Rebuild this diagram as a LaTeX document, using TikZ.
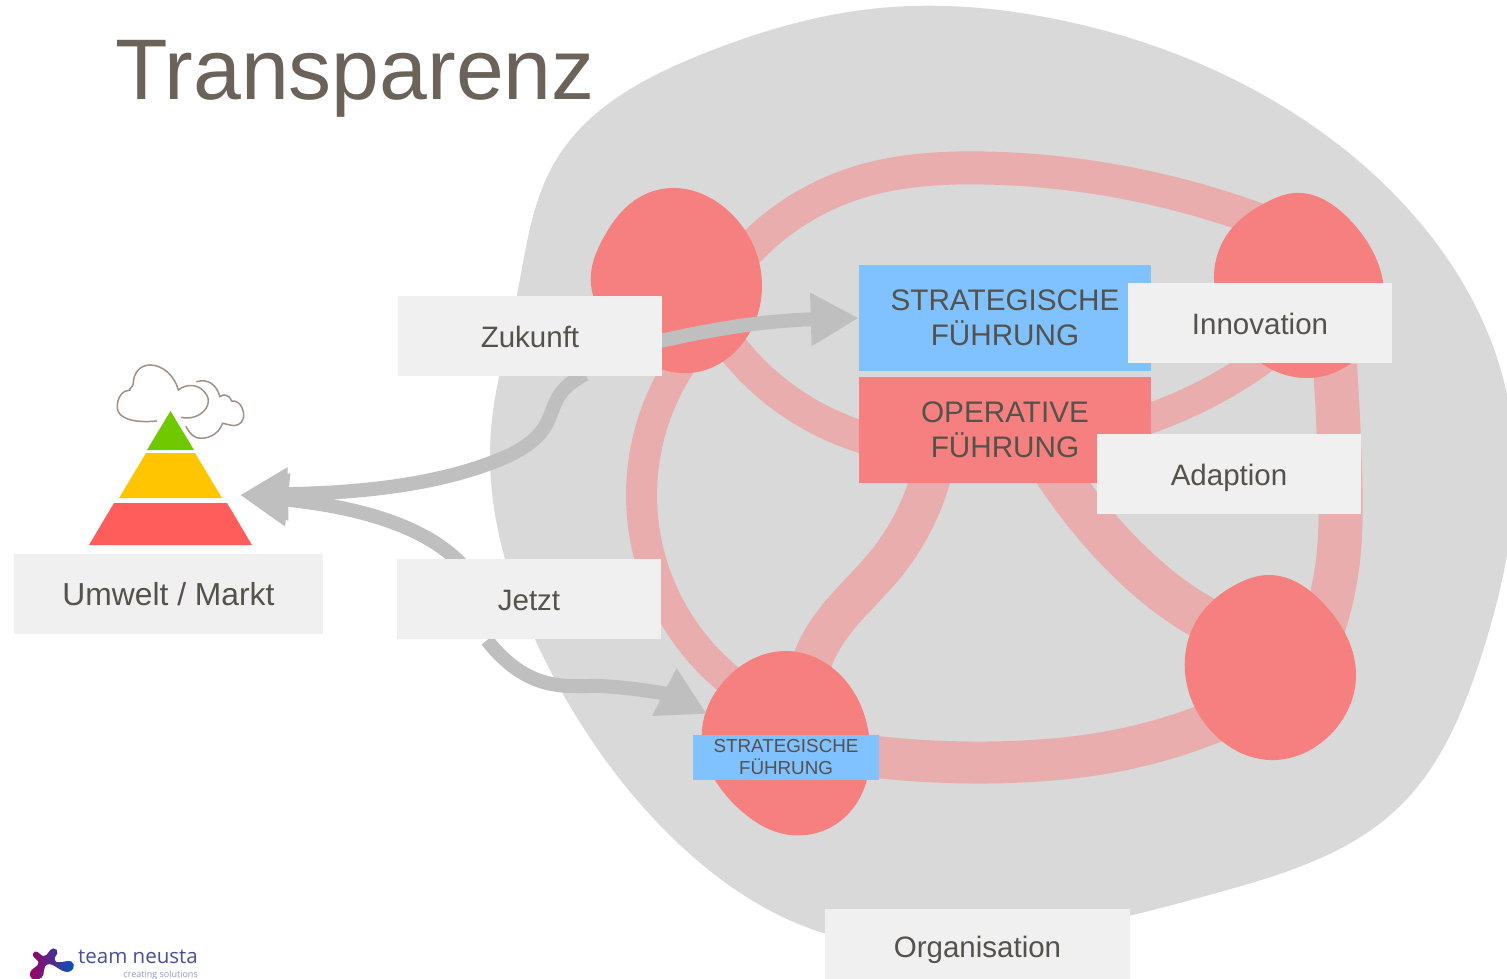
\documentclass[tikz,border=0pt]{standalone}
\usepackage{fontspec}
\setmainfont{Liberation Sans}
\newfontfamily\logofont{Open Sans}
\usetikzlibrary{arrows.meta,calc,hobby}
\pgfdeclarelayer{under}
\pgfdeclarelayer{flowlayer}
\pgfsetlayers{under,flowlayer,main}
\definecolor{blobgray}{HTML}{D9D9D9}
\definecolor{ribbon}{HTML}{E9ADAD}
\definecolor{redblob}{HTML}{F68080}
\definecolor{boxgray}{HTML}{F0F0F0}
\definecolor{blu}{HTML}{80C1FF}
\definecolor{txt}{HTML}{55514B}
\definecolor{arrowgray}{HTML}{BFBFBF}
\definecolor{cloudc}{HTML}{A09088}
\tikzset{
 x=1pt,y=-1pt,
 rib/.style={draw=ribbon,line cap=butt,line join=round,use Hobby shortcut},
 ablob/.style={fill=redblob,draw=none,use Hobby shortcut,closed=true},
 label box/.style={fill=boxgray,draw=none,minimum width=264pt,minimum height=80pt,inner sep=0pt,text=txt,text height=26pt,text depth=4pt,font=\fontsize{29.5}{30}\selectfont},
 big box/.style={draw=none,minimum width=292pt,minimum height=106pt,inner sep=0pt,text=txt,align=center,font=\fontsize{29.7}{35}\selectfont},
 flow/.style={draw=arrowgray,line width=14pt,-{Triangle[length=48pt,width=50pt,fill=arrowgray]}},
 cloudline/.style={draw=cloudc,line width=1.5pt,line cap=round},
}
\begin{document}
\begin{tikzpicture}
\useasboundingbox (0,0) rectangle (1507,979);
\begin{pgfonlayer}{under}
\fill[white] (0,0) rectangle (1507,979);
% organisation blob
\fill[blobgray,use Hobby shortcut,closed=true] (516,300)..(556,160)..(700,55)..(880,8)..(1050,18)..(1235,80)..(1390,190)..(1507,395)..(1480,660)..(1400,806)..(1220,892)..(1040,935)..(830,935)..(680,845)..(550,670)..(491,430);
% ribbons
\draw[rib,line width=33pt] (738,262)..(850,185)..(985,168)..(1110,180)..(1265,222);
\draw[rib,line width=31pt] (680,365)..(642,510)..(680,625)..(750,695);
\draw[rib,line width=42pt] (860,755)..(1010,762)..(1120,750)..(1230,715);
\draw[rib,line width=44pt] (1335,365)..(1340,470)..(1338,560)..(1315,650);
\draw[rib,line width=32pt] (730,345)..(790,402)..(865,438);
\draw[rib,line width=40pt] (935,460)..(885,565)..(822,640)..(808,675);
\draw[rib,line width=44pt] (1045,455)..(1118,550)..(1190,610)..(1240,635);
\draw[rib,line width=30pt] (1145,420)..(1210,392)..(1275,350);
% red blobs
\fill[ablob] (672,188)..(725,208)..(762,285)..(745,340)..(690,373)..(605,320)..(591,285)..(605,235)..(635,200);
\fill[ablob] (1295,193)..(1350,220)..(1384,290)..(1365,350)..(1305,378)..(1225,320)..(1214,280)..(1232,228)..(1265,203);
\fill[ablob] (1268,575)..(1325,605)..(1356,675)..(1330,735)..(1270,760)..(1215,735)..(1185,672)..(1200,615)..(1235,585);
\fill[ablob] (785,651)..(835,670)..(870,745)..(850,812)..(790,835)..(738,808)..(702,730)..(725,680);
% pyramid
\fill[fill={rgb,255:red,112;green,200;blue,0}] (170.5,411) -- (194,450) -- (147,450) -- cycle;
\fill[fill={rgb,255:red,255;green,198;blue,0}] (146,453) -- (195,453) -- (222,498) -- (119,498) -- cycle;
\fill[fill={rgb,255:red,255;green,92;blue,92}] (114,503) -- (227,503) -- (252,545) -- (89,545) -- cycle;
% clouds (crop coordinates)
\begin{scope}[shift={(0,340)},x=0.3333pt,y=-0.3333pt]
\draw[cloudline] (470,243) .. controls (400,250) and (355,235) .. (352,205) .. controls (350,170) and (370,150) .. (390,150) .. controls (385,145) and (398,145) .. (400,130) .. controls (400,100) and (420,75) .. (450,75) .. controls (490,75) and (525,110) .. (535,150) .. controls (560,130) and (600,130) .. (620,165) .. controls (635,190) and (615,220) .. (585,230) .. controls (570,235) and (555,235) .. (545,232);
\draw[cloudline] (590,125) .. controls (625,115) and (650,135) .. (660,170) .. controls (670,160) and (690,165) .. (695,183) .. controls (725,180) and (735,220) .. (730,235) .. controls (725,255) and (705,260) .. (690,255) .. controls (675,252) and (672,250) .. (668,250) .. controls (655,285) and (620,300) .. (590,293) .. controls (570,285) and (565,270) .. (558,260);
\end{scope}
\end{pgfonlayer}
% nodes
\node[big box,fill=blu] (strat) at (1005,318) {STRATEGISCHE\\FÜHRUNG};
\node[big box,fill=redblob] (oper) at (1005,430) {OPERATIVE\\FÜHRUNG};
\coordinate (envtip) at (240,495);
\coordinate (smalltip) at (707,714);
\node[label box] (zukunft) at (530,336) {Zukunft};
\node[label box] (jetzt) at (529,599) {Jetzt};
\begin{pgfonlayer}{flowlayer}
\draw[flow] ($(zukunft.east)+(-2,5)$) .. controls (745,322) and (790,320) .. (strat.west);
\draw[flow] ($(zukunft.south)+(55,-2)$) .. controls (535,400) and (570,425) .. (510,455) .. controls (440,487) and (350,493) .. (envtip);
\draw[flow] ($(jetzt.north)+(-67,6)$) .. controls (420,520) and (340,505) .. (envtip);
\draw[flow] ($(jetzt.south)+(-42,1)$) .. controls (530,695) and (570,685) .. (600,686) .. controls (640,688) and (670,695) .. (smalltip);
\end{pgfonlayer}
\node[label box] (innov) at (1260,323) {Innovation};
\node[label box] (adapt) at (1229,474) {Adaption};
\node[label box,minimum width=309pt,font=\fontsize{31.8}{32}\selectfont] (umwelt) at (168.5,594) {Umwelt / Markt};
\node[label box,minimum width=305pt,text height=23pt,text depth=7pt] at (977.5,949) (orga) {Organisation};
\node[fill=blu,minimum width=186pt,minimum height=45pt,inner sep=0pt,text=txt,align=center,font=\fontsize{18.8}{22}\selectfont] (small) at (786,757.5) {STRATEGISCHE\\FÜHRUNG};
\node[text={rgb,255:red,107;green,99;blue,90},font=\fontsize{86}{86}\selectfont,inner sep=0pt,anchor=base west] (title) at (115,100) {Transparenz};
% logo
\begin{scope}[shift={(0,920)},x=0.3333pt,y=-0.3333pt]
\shade[left color=violet!75!red,right color=blue!55!cyan!75!black,draw=none,use Hobby shortcut,closed=true] (105,95)..(130,108)..(160,85)..(172,100)..(165,112)..(215,125)..(220,145)..(195,155)..(135,140)..(130,165)..(115,178)..(95,175)..(95,150)..(115,125)..(100,110);
\end{scope}
\node[anchor=base west,inner sep=0pt,text={rgb,255:red,74;green,78;blue,156},font=\logofont\fontsize{20.5}{21}\selectfont] (logoa) at (78,963) {team neusta};
\node[anchor=base east,inner sep=0pt,text={rgb,255:red,150;green,155;blue,205},font=\logofont\fontsize{9}{11}\selectfont] (logob) at (198,977) {creating solutions};
\end{tikzpicture}
\end{document}
